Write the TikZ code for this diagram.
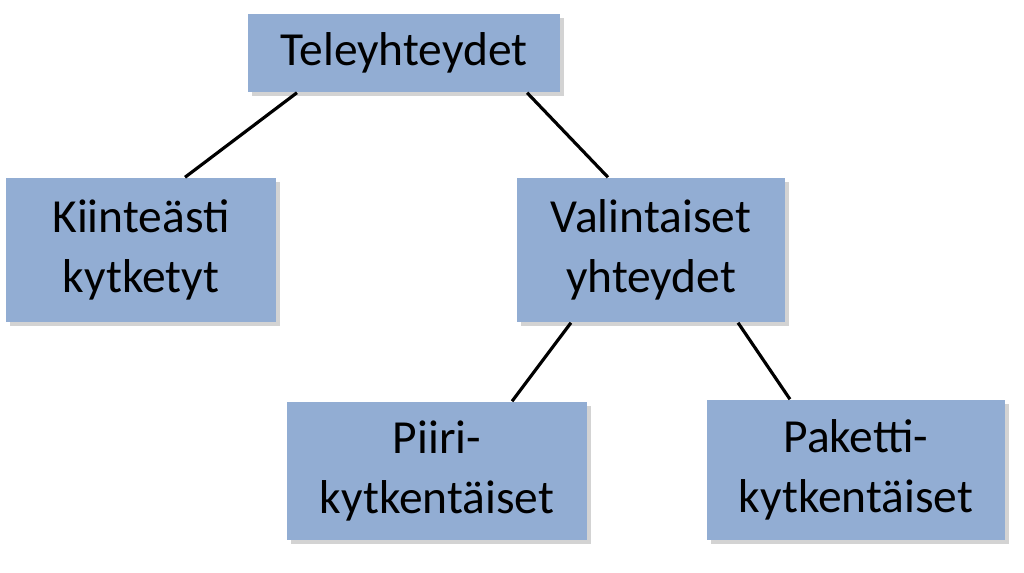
\documentclass[tikz,border=0pt]{standalone}
\usepackage{fontspec}
\setmainfont{Carlito}
\usetikzlibrary{positioning,shadows}
\definecolor{boxblue}{RGB}{146,173,211}
\tikzset{
	topic/.style={draw=none,fill=boxblue,align=center,inner sep=0pt,
		font=\fontsize{13.5}{17}\selectfont,
		drop shadow={shadow xshift=0.04cm,shadow yshift=-0.04cm,opacity=0.35}},
	link/.style={draw=black,line width=0.9pt}
}
\begin{document}
\begin{tikzpicture}[x=0.01cm,y=0.01cm]
	\useasboundingbox (0,0) rectangle (1024,-572);

	\node[topic,minimum width=3.12cm,minimum height=0.78cm] (tele) at (404,-53) {Teleyhteydet};

	\node[topic,minimum width=2.70cm,minimum height=1.44cm] (fixed) at (141,-250) {Kiinteästi\\kytketyt};

	\node[topic,minimum width=2.68cm,minimum height=1.44cm] (switched) at (651,-250) {Valintaiset\\yhteydet};

	\node[topic,minimum width=2.99cm,minimum height=1.38cm] (circuit) at (437,-471) {Piiri-\\kytkentäiset};

	\node[topic,minimum width=2.97cm,minimum height=1.40cm] (packet) at (856,-470) {Paketti-\\kytkentäiset};

	\draw[link] ([xshift=-1.07cm]tele.south) -- ([xshift=0.44cm]fixed.north);
	\draw[link] ([xshift=1.23cm]tele.south) -- ([xshift=-0.43cm]switched.north);
	\draw[link] ([xshift=-0.80cm]switched.south) -- ([xshift=0.75cm]circuit.north);
	\draw[link] ([xshift=0.87cm]switched.south) -- ([xshift=-0.66cm]packet.north);

\end{tikzpicture}
\end{document}
